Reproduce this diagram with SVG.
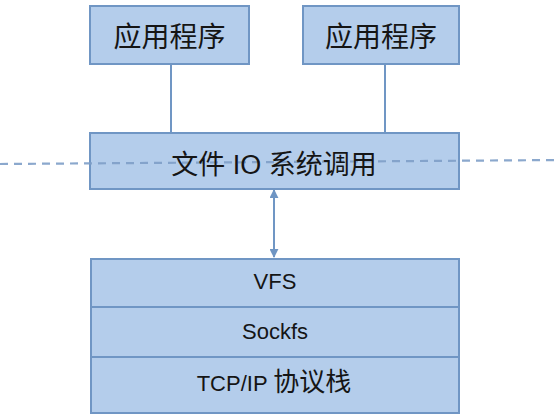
<svg xmlns="http://www.w3.org/2000/svg" width="558" height="420" viewBox="0 0 558 420">
<style>
.box{fill:#b4cdeb;stroke:#7096c4;stroke-width:2}
.conn{stroke:#7096c4;stroke-width:2;fill:none}
.t{font-family:"Liberation Sans","Noto Sans CJK SC",sans-serif;fill:#151515;text-anchor:middle}
.cjk{font-family:"Noto Sans CJK SC",sans-serif}
</style>
<defs>
<marker id="ah" viewBox="0 0 10 10" refX="9" refY="5" markerWidth="4.5" markerHeight="4.5" orient="auto-start-reverse">
<path d="M0,0 L10,5 L0,10 z" fill="#6f95c3"/>
</marker>
</defs>
<g id="connectors">
<line class="conn" x1="171" y1="64" x2="171" y2="133"/>
<line class="conn" x1="385" y1="64" x2="385" y2="133"/>
<line class="conn" x1="274" y1="190" x2="274" y2="257" marker-start="url(#ah)" marker-end="url(#ah)"/>
</g>
<g id="app1">
<rect class="box" x="90" y="6" width="159" height="58"/>
<text class="t" x="169.5" y="47" font-size="28">应用程序</text>
</g>
<g id="app2">
<rect class="box" x="303" y="6" width="156" height="58"/>
<text class="t" x="381" y="47" font-size="28">应用程序</text>
</g>
<g id="syscall">
<rect class="box" x="90" y="133" width="369" height="56"/>
</g>
<g id="divider">
<line x1="0" y1="164" x2="558" y2="160" stroke="#7f9fc8" stroke-width="2.2" stroke-dasharray="8 6" opacity="0.9"/>
</g>
<g id="syscall-label">
<text class="t" x="274" y="174" font-size="27">文件 IO 系统调用</text>
</g>
<g id="stack">
<rect class="box" x="91" y="259" width="368" height="154"/>
<line class="conn" x1="91" y1="307" x2="459" y2="307"/>
<line class="conn" x1="91" y1="357" x2="459" y2="357"/>
<text class="t" x="275" y="289" font-size="22">VFS</text>
<text class="t" x="275" y="339" font-size="22">Sockfs</text>
<text class="t" x="274" y="391" font-size="22">TCP/IP <tspan class="cjk" font-size="26">协议栈</tspan></text>
</g>
</svg>
